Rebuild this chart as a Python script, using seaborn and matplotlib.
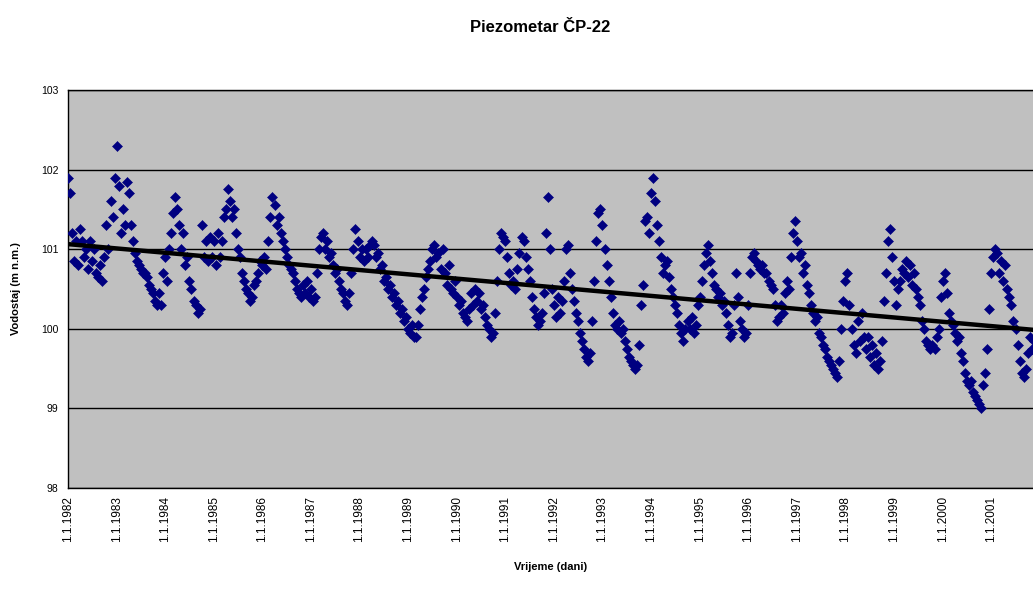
import numpy as np
import pandas as pd
import matplotlib
matplotlib.use("Agg")
import matplotlib.pyplot as plt
import seaborn as sns

# Groundwater level readings, 24 per year (semi-monthly), m a.s.l.
lvl_1982 = [101.9, 101.7, 101.2, 100.85, 101.1, 100.8, 101.25, 101.1, 100.9, 101.0, 100.75, 101.1,
            100.85, 101.0, 100.7, 100.65, 100.8, 100.6, 100.9, 101.3, 101.0, 101.6, 101.4, 101.9]
lvl_1983 = [102.3, 101.8, 101.2, 101.5, 101.3, 101.85, 101.7, 101.3, 101.1, 100.95, 100.85, 100.8,
            100.75, 100.7, 100.7, 100.65, 100.55, 100.5, 100.45, 100.35, 100.3, 100.45, 100.3, 100.7]
lvl_1984 = [100.9, 100.6, 101.0, 101.2, 101.45, 101.65, 101.5, 101.3, 101.0, 101.2, 100.8, 100.9,
            100.6, 100.5, 100.35, 100.3, 100.2, 100.25, 101.3, 100.9, 101.1, 100.85, 101.15, 100.9]
lvl_1985 = [101.1, 100.8, 101.2, 100.9, 101.1, 101.4, 101.5, 101.75, 101.6, 101.4, 101.5, 101.2,
            101.0, 100.9, 100.7, 100.6, 100.5, 100.45, 100.35, 100.4, 100.55, 100.6, 100.7, 100.85]
lvl_1986 = [100.8, 100.9, 100.75, 101.1, 101.4, 101.65, 101.55, 101.3, 101.4, 101.2, 101.1, 101.0,
            100.9, 100.8, 100.75, 100.7, 100.6, 100.5, 100.45, 100.4, 100.55, 100.45, 100.6, 100.4]
lvl_1987 = [100.5, 100.35, 100.4, 100.7, 101.0, 101.15, 101.2, 101.0, 101.1, 100.9, 100.95, 100.8,
            100.7, 100.75, 100.6, 100.5, 100.45, 100.35, 100.3, 100.45, 100.7, 101.0, 101.25, 101.1]
lvl_1988 = [100.9, 101.0, 100.85, 101.0, 100.9, 101.05, 101.1, 101.05, 100.9, 100.95, 100.75, 100.8,
            100.6, 100.65, 100.5, 100.55, 100.4, 100.45, 100.3, 100.35, 100.2, 100.25, 100.1, 100.15]
lvl_1989 = [100.0, 99.95, 100.05, 99.9, 99.9, 100.05, 100.25, 100.4, 100.5, 100.65, 100.75, 100.85,
            101.0, 101.05, 100.9, 100.95, 100.75, 101.0, 100.7, 100.55, 100.8, 100.5, 100.45, 100.6]
lvl_1990 = [100.4, 100.3, 100.35, 100.2, 100.15, 100.1, 100.25, 100.45, 100.3, 100.5, 100.35, 100.45,
            100.25, 100.3, 100.15, 100.05, 100.0, 99.9, 99.95, 100.2, 100.6, 101.0, 101.2, 101.15]
lvl_1991 = [101.1, 100.9, 100.7, 100.55, 100.6, 100.5, 100.75, 100.95, 101.15, 101.1, 100.9, 100.75,
            100.6, 100.4, 100.25, 100.15, 100.05, 100.1, 100.2, 100.45, 101.2, 101.65, 101.0, 100.5]
lvl_1992 = [100.3, 100.15, 100.4, 100.2, 100.35, 100.6, 101.0, 101.05, 100.7, 100.5, 100.35, 100.2,
            100.1, 99.95, 99.85, 99.75, 99.65, 99.6, 99.7, 100.1, 100.6, 101.1, 101.45, 101.5]
lvl_1993 = [101.3, 101.0, 100.8, 100.6, 100.4, 100.2, 100.05, 100.0, 100.1, 99.95, 100.0, 99.85,
            99.75, 99.65, 99.6, 99.55, 99.5, 99.55, 99.8, 100.3, 100.55, 101.35, 101.4, 101.2]
lvl_1994 = [101.7, 101.9, 101.6, 101.3, 101.1, 100.9, 100.7, 100.8, 100.85, 100.65, 100.5, 100.4,
            100.3, 100.2, 100.05, 99.95, 99.85, 100.0, 100.1, 100.0, 100.15, 99.95, 100.05, 100.3]
lvl_1995 = [100.4, 100.6, 100.8, 100.95, 101.05, 100.85, 100.7, 100.55, 100.5, 100.4, 100.45, 100.3,
            100.35, 100.2, 100.05, 99.9, 99.95, 100.3, 100.7, 100.4, 100.1, 100.0, 99.9, 99.95]
lvl_1996 = [100.3, 100.7, 100.9, 100.95, 100.85, 100.8, 100.75, 100.8, 100.7, 100.7, 100.6, 100.55,
            100.5, 100.3, 100.1, 100.15, 100.3, 100.2, 100.45, 100.6, 100.5, 100.9, 101.2, 101.35]
lvl_1997 = [101.1, 100.9, 100.95, 100.7, 100.8, 100.55, 100.45, 100.3, 100.2, 100.1, 100.15, 99.95,
            99.9, 99.8, 99.75, 99.65, 99.6, 99.55, 99.5, 99.45, 99.4, 99.6, 100.0, 100.35]
lvl_1998 = [100.6, 100.7, 100.3, 100.0, 99.8, 99.7, 100.1, 99.85, 100.2, 99.9, 99.75, 99.9,
            99.65, 99.8, 99.55, 99.7, 99.5, 99.6, 99.85, 100.35, 100.7, 101.1, 101.25, 100.9]
lvl_1999 = [100.6, 100.3, 100.5, 100.6, 100.75, 100.7, 100.85, 100.65, 100.8, 100.55, 100.7, 100.5,
            100.4, 100.3, 100.1, 100.0, 99.85, 99.8, 99.75, 99.8, 99.75, 99.9, 100.0, 100.4]
lvl_2000 = [100.6, 100.7, 100.45, 100.2, 100.1, 100.05, 99.95, 99.85, 99.9, 99.7, 99.6, 99.45,
            99.35, 99.3, 99.35, 99.2, 99.15, 99.1, 99.05, 99.0, 99.3, 99.45, 99.75, 100.25]
lvl_2001 = [100.7, 100.9, 101.0, 100.95, 100.7, 100.85, 100.6, 100.8, 100.5, 100.4, 100.3, 100.1,
            100.0, 99.8, 99.6, 99.45, 99.4, 99.5, 99.7, 99.9, 99.75, 99.85]

years = list(range(1982, 2002))
yearly = [lvl_1982, lvl_1983, lvl_1984, lvl_1985, lvl_1986, lvl_1987, lvl_1988, lvl_1989,
          lvl_1990, lvl_1991, lvl_1992, lvl_1993, lvl_1994, lvl_1995, lvl_1996, lvl_1997,
          lvl_1998, lvl_1999, lvl_2000, lvl_2001]
samples_per_year = 24

y_ticks = [98, 99, 100, 101, 102, 103]
x_tick_labels = [f"1.1.{y}" for y in years]

title = "Piezometar ČP-22"
x_label = "Vrijeme (dani)"
y_label = "Vodostaj (m n.m.)"

# Tidy frame with time expressed as decimal year
rows = []
for yr, vals in zip(years, yearly):
    for k, v in enumerate(vals):
        rows.append((yr + k / samples_per_year, v))
df = pd.DataFrame(rows, columns=["t", "level"])

sns.set_style("white")
plt.rcParams["font.family"] = ["Liberation Sans", "DejaVu Sans"]
plt.rcParams["text.color"] = "black"
plt.rcParams["axes.labelcolor"] = "black"
plt.rcParams["xtick.color"] = "black"
plt.rcParams["ytick.color"] = "black"

fig = plt.figure(figsize=(10.33, 5.89), dpi=100)
ax = fig.add_axes([68 / 1033, 1 - 488 / 589, 1 - 68 / 1033, (488 - 90) / 589])
ax.set_facecolor("#C0C0C0")

sns.scatterplot(data=df, x="t", y="level", ax=ax, marker="D", s=26,
                color="#000080", edgecolor="#000080", linewidth=0.4, zorder=3)
sns.regplot(data=df, x="t", y="level", ax=ax, scatter=False, ci=None,
            color="black", line_kws={"linewidth": 3.2, "zorder": 4})

ax.set_xlim(1982, 2001.86)
ax.set_ylim(98, 103)
ax.set_yticks(y_ticks)
ax.set_yticklabels([str(v) for v in y_ticks], fontsize=7.5)
ax.set_xticks(years)
ax.set_xticklabels(x_tick_labels, rotation=90, fontsize=8.5)

ax.grid(axis="y", color="black", linewidth=1.0, zorder=1)
ax.grid(axis="x", visible=False)
ax.set_axisbelow(True)

for side in ["left", "bottom", "top"]:
    ax.spines[side].set_visible(True)
    ax.spines[side].set_color("black")
    ax.spines[side].set_linewidth(1.0)
ax.spines["right"].set_visible(False)

ax.tick_params(axis="y", direction="out", length=4, width=1, pad=3)
ax.tick_params(axis="x", direction="inout", length=6, width=1, pad=3)

ax.set_xlabel(x_label, fontsize=8, fontweight="bold", labelpad=14)
ax.set_ylabel(y_label, fontsize=8, fontweight="bold", labelpad=14)
fig.text(540 / 1033, 1 - 27 / 589, title, ha="center", va="center",
         fontsize=12, fontweight="bold")

fig.savefig("out.png", dpi=100)
